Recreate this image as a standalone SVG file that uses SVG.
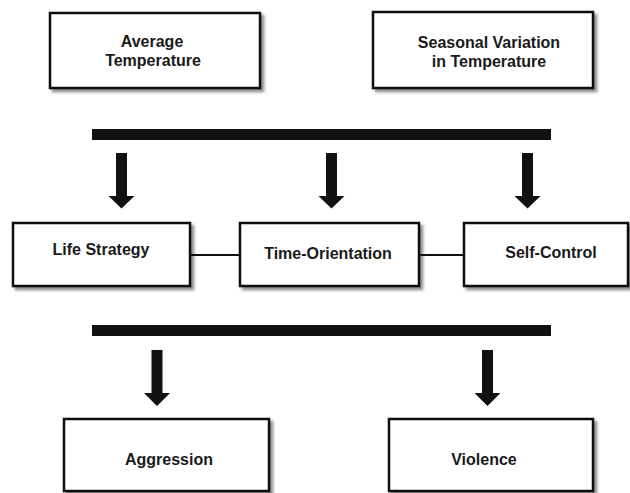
<svg xmlns="http://www.w3.org/2000/svg" width="630" height="493" viewBox="0 0 630 493">
<style>
.box{fill:#fff;stroke:#111;stroke-width:2.5;filter:url(#sh)}
.t{font-family:"Liberation Sans",Arial,sans-serif;font-weight:bold;font-size:16px;fill:#1a1a1a;text-anchor:middle}
.bar{fill:#111}
.arr{fill:#111}
.ln{stroke:#111;stroke-width:2;fill:none}
</style>
<defs>
<filter id="sh" x="-10%" y="-10%" width="125%" height="130%">
<feGaussianBlur in="SourceAlpha" stdDeviation="1.5"/>
<feOffset dx="2.5" dy="2.5" result="b"/>
<feComponentTransfer><feFuncA type="linear" slope="0.45"/></feComponentTransfer>
<feMerge><feMergeNode/><feMergeNode in="SourceGraphic"/></feMerge>
</filter>
</defs>
<rect width="630" height="493" fill="#fff"/>
<g id="avg-temp"><rect class="box" x="50" y="13" width="210" height="75"/><text class="t" x="152" y="47">Average</text><text class="t" x="153" y="66">Temperature</text></g>
<g id="seasonal"><rect class="box" x="373" y="12" width="220" height="76"/><text class="t" x="489" y="48">Seasonal Variation</text><text class="t" x="489" y="67">in Temperature</text></g>
<g id="life-strategy"><rect class="box" x="13" y="223" width="177" height="63"/><text class="t" x="101" y="255">Life Strategy</text></g>
<g id="time-orientation"><rect class="box" x="240" y="223" width="179" height="63"/><text class="t" x="328" y="259">Time-Orientation</text></g>
<g id="self-control"><rect class="box" x="464" y="223" width="164" height="63"/><text class="t" x="551" y="258">Self-Control</text></g>
<g id="aggression"><rect class="box" x="64" y="419" width="205" height="72"/><text class="t" x="169" y="465">Aggression</text></g>
<g id="violence"><rect class="box" x="389" y="419" width="204" height="72"/><text class="t" x="484" y="465">Violence</text></g>
<g id="connectors">
<rect class="bar" x="92" y="129" width="459" height="11"/>
<rect class="bar" x="92" y="325" width="459" height="11"/>
<path class="arr" d="M116,153h11v43h7.5l-13,12.5l-13,-12.5h7.5z"/>
<path class="arr" d="M326,153h11v43h7.5l-13,12.5l-13,-12.5h7.5z"/>
<path class="arr" d="M522,153h11v43h7.5l-13,12.5l-13,-12.5h7.5z"/>
<path class="arr" d="M151.5,350h11v43h7.5l-13,13l-13,-13h7.5z"/>
<path class="arr" d="M482,350h11v43h7.5l-13,13l-13,-13h7.5z"/>
<line class="ln" x1="190" y1="255" x2="240" y2="255"/>
<line class="ln" x1="419" y1="255" x2="464" y2="255"/>
</g>
</svg>
